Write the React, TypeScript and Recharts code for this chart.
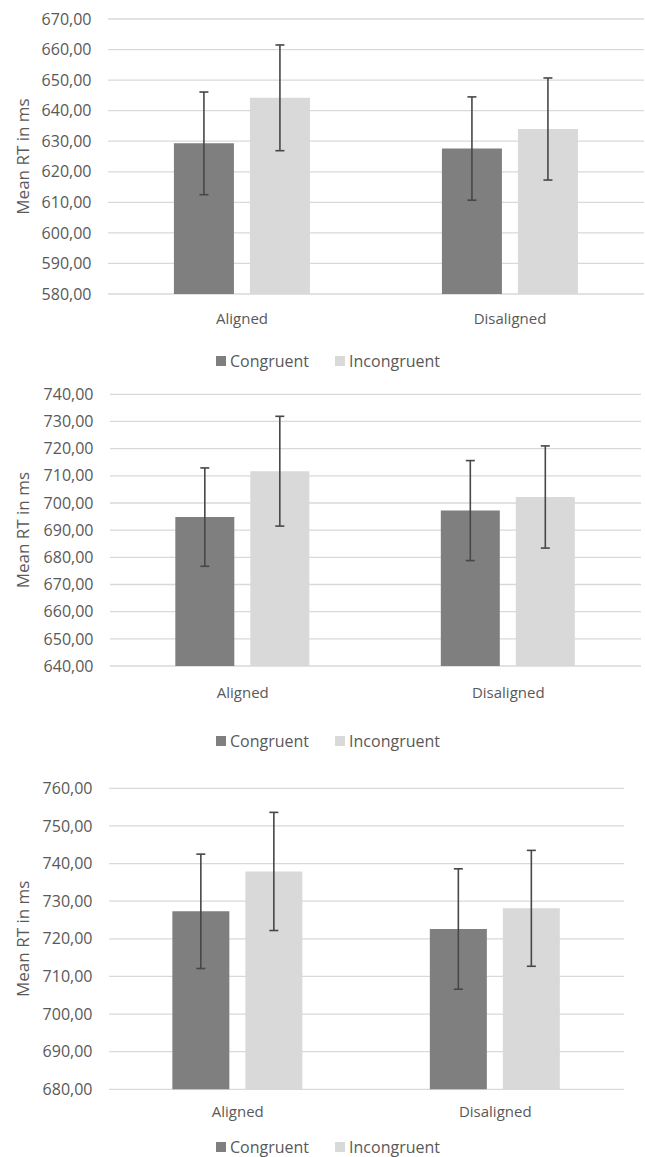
import {
  Bar,
  BarChart,
  CartesianGrid,
  ErrorBar,
  Label,
  Legend,
  XAxis,
  YAxis,
} from "recharts";

const CONDITIONS = ["Aligned", "Disaligned"];
const SERIES_NAMES = ["Congruent", "Incongruent"];
const SERIES_COLORS = ["#7f7f7f", "#d9d9d9"];

// Panel 1
const P1_CONGRUENT = [629.3, 627.6];
const P1_CONGRUENT_ERR = [16.8, 16.9];
const P1_INCONGRUENT = [644.2, 634.0];
const P1_INCONGRUENT_ERR = [17.3, 16.7];
const P1_TICKS = [580, 590, 600, 610, 620, 630, 640, 650, 660, 670];

// Panel 2
const P2_CONGRUENT = [694.8, 697.2];
const P2_CONGRUENT_ERR = [18.1, 18.4];
const P2_INCONGRUENT = [711.7, 702.2];
const P2_INCONGRUENT_ERR = [20.2, 18.8];
const P2_TICKS = [640, 650, 660, 670, 680, 690, 700, 710, 720, 730, 740];

// Panel 3
const P3_CONGRUENT = [727.3, 722.6];
const P3_CONGRUENT_ERR = [15.2, 16.0];
const P3_INCONGRUENT = [737.9, 728.1];
const P3_INCONGRUENT_ERR = [15.7, 15.4];
const P3_TICKS = [680, 690, 700, 710, 720, 730, 740, 750, 760];

const FONT = "'Open Sans', sans-serif";
const TEXT_COLOR = "#595959";
const GRID_COLOR = "#d9d9d9";
const ERR_COLOR = "#474747";

type PanelLayout = {
  top: number;
  height: number;
  plotTop: number;
  plotLeft: number;
  plotRight: number;
  xAxisHeight: number;
  xTickMargin: number;
  marginBottom: number;
  legendHeight: number;
};

const buildRows = (
  cong: number[],
  congErr: number[],
  incong: number[],
  incongErr: number[],
) =>
  CONDITIONS.map((condition, i) => ({
    condition,
    congruent: cong[i],
    congruentErr: congErr[i],
    incongruent: incong[i],
    incongruentErr: incongErr[i],
  }));

const formatTick = (v: number) => v.toFixed(2).replace(".", ",");

function LegendContent({ height }: { height: number }) {
  return (
    <div
      style={{
        display: "flex",
        justifyContent: "center",
        alignItems: "center",
        height,
        paddingLeft: 11,
        fontFamily: FONT,
        fontSize: 16,
        color: TEXT_COLOR,
        lineHeight: `${height}px`,
      }}
    >
      {SERIES_NAMES.map((name, i) => (
        <span
          key={name}
          style={{
            display: "inline-flex",
            alignItems: "center",
            marginLeft: i === 0 ? 0 : 26,
          }}
        >
          <span
            style={{
              display: "inline-block",
              width: 10,
              height: 10,
              background: SERIES_COLORS[i],
              marginRight: 4,
            }}
          />
          {name}
        </span>
      ))}
    </div>
  );
}

function YTitle(props: any) {
  const vb = props.viewBox || { x: 0, y: 0, width: 0, height: 0 };
  const cx = vb.x + 29;
  const cy = vb.y + vb.height / 2;
  return (
    <text
      x={cx}
      y={cy}
      transform={`rotate(-90, ${cx}, ${cy})`}
      textAnchor="middle"
      fill={TEXT_COLOR}
      fontFamily={FONT}
      fontSize={17}
    >
      Mean RT in ms
    </text>
  );
}

interface PanelProps {
  data: ReturnType<typeof buildRows>;
  ticks: number[];
  layout: PanelLayout;
}

function RTPanel({ data, ticks, layout }: PanelProps) {
  const domain: [number, number] = [ticks[0], ticks[ticks.length - 1]];
  return (
    <div style={{ position: "absolute", left: 0, top: layout.top }}>
      <BarChart
        width={645}
        height={layout.height}
        data={data}
        margin={{
          top: layout.plotTop,
          right: 645 - layout.plotRight,
          left: 0,
          bottom: layout.marginBottom,
        }}
        barCategoryGap="24.6%"
        barGap={16}
      >
        <CartesianGrid
          horizontal
          vertical={false}
          stroke={GRID_COLOR}
          strokeWidth={1.3}
        />
        <XAxis
          dataKey="condition"
          axisLine={false}
          tickLine={false}
          tickSize={0}
          tickMargin={layout.xTickMargin}
          height={layout.xAxisHeight}
          tick={{ fill: TEXT_COLOR, fontSize: 15, fontFamily: FONT }}
        />
        <YAxis
          type="number"
          domain={domain}
          ticks={ticks}
          interval={0}
          width={layout.plotLeft}
          axisLine={false}
          tickLine={false}
          tickSize={0}
          tickMargin={16.5}
          tickFormatter={formatTick}
          tick={{ fill: TEXT_COLOR, fontSize: 16, fontFamily: FONT }}
          label={<Label content={YTitle} />}
        />
        <Legend
          verticalAlign="bottom"
          height={layout.legendHeight}
          width={645}
          wrapperStyle={{ left: 0 }}
          content={() => <LegendContent height={layout.legendHeight} />}
        />
        <Bar
          dataKey="congruent"
          name={SERIES_NAMES[0]}
          fill={SERIES_COLORS[0]}
          isAnimationActive={false}
        >
          <ErrorBar
            dataKey="congruentErr"
            direction="y"
            width={4.5}
            stroke={ERR_COLOR}
            strokeWidth={1.6}
            isAnimationActive={false}
          />
        </Bar>
        <Bar
          dataKey="incongruent"
          name={SERIES_NAMES[1]}
          fill={SERIES_COLORS[1]}
          isAnimationActive={false}
        >
          <ErrorBar
            dataKey="incongruentErr"
            direction="y"
            width={4.5}
            stroke={ERR_COLOR}
            strokeWidth={1.6}
            isAnimationActive={false}
          />
        </Bar>
      </BarChart>
    </div>
  );
}

const PANEL1_LAYOUT: PanelLayout = {
  top: 0,
  height: 375,
  plotTop: 19,
  plotLeft: 108,
  plotRight: 644,
  xAxisHeight: 56.5,
  xTickMargin: 19.6,
  marginBottom: 4.5,
  legendHeight: 20,
};

const PANEL2_LAYOUT: PanelLayout = {
  top: 375,
  height: 380,
  plotTop: 19.3,
  plotLeft: 110,
  plotRight: 641,
  xAxisHeight: 64.7,
  xTickMargin: 21,
  marginBottom: 4.3,
  legendHeight: 20,
};

const PANEL3_LAYOUT: PanelLayout = {
  top: 760,
  height: 400,
  plotTop: 28.3,
  plotLeft: 109,
  plotRight: 624,
  xAxisHeight: 48.7,
  xTickMargin: 17.3,
  marginBottom: 4,
  legendHeight: 18,
};

export default function App() {
  const panel1 = buildRows(P1_CONGRUENT, P1_CONGRUENT_ERR, P1_INCONGRUENT, P1_INCONGRUENT_ERR);
  const panel2 = buildRows(P2_CONGRUENT, P2_CONGRUENT_ERR, P2_INCONGRUENT, P2_INCONGRUENT_ERR);
  const panel3 = buildRows(P3_CONGRUENT, P3_CONGRUENT_ERR, P3_INCONGRUENT, P3_INCONGRUENT_ERR);

  return (
    <div
      style={{
        position: "absolute",
        left: 0,
        top: 0,
        width: 645,
        height: 1157,
        overflow: "hidden",
        background: "#ffffff",
      }}
    >
      <RTPanel data={panel1} ticks={P1_TICKS} layout={PANEL1_LAYOUT} />
      <RTPanel data={panel2} ticks={P2_TICKS} layout={PANEL2_LAYOUT} />
      <RTPanel data={panel3} ticks={P3_TICKS} layout={PANEL3_LAYOUT} />
    </div>
  );
}
